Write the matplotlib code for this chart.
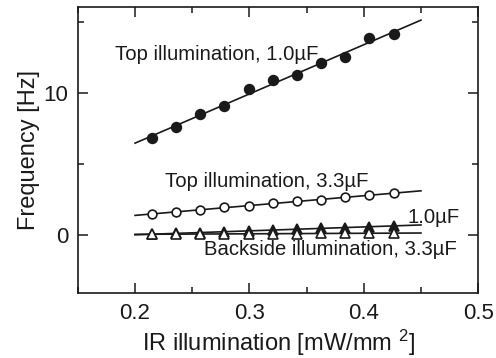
import numpy as np
import matplotlib
matplotlib.use("Agg")
import matplotlib.pyplot as plt
from matplotlib.ticker import MultipleLocator

plt.rcParams['font.family'] = ['Liberation Sans', 'DejaVu Sans']
plt.rcParams['mathtext.fontset'] = 'custom'
plt.rcParams['mathtext.rm'] = 'Liberation Sans'
plt.rcParams['mathtext.default'] = 'regular'

# IR illumination [mW/mm2]
ir = [0.215, 0.236, 0.257, 0.278, 0.300, 0.321, 0.342, 0.363, 0.384, 0.405, 0.426]

# Frequency [Hz]
top_1uF = [6.85, 7.6, 8.5, 9.1, 10.25, 10.9, 11.25, 12.1, 12.55, 13.85, 14.15]
top_3uF = [1.46, 1.6, 1.76, 1.92, 2.04, 2.23, 2.37, 2.46, 2.65, 2.77, 2.93]
back_1uF = [0.05, 0.1, 0.15, 0.2, 0.27, 0.33, 0.38, 0.45, 0.5, 0.57, 0.63]
back_3uF = [0.03, 0.04, 0.05, 0.06, 0.06, 0.07, 0.08, 0.09, 0.1, 0.1, 0.11]

fit_range = [0.2, 0.45]

ink = '#1a1a1a'
fig = plt.figure(figsize=(4.96, 3.58), dpi=100)
ax = fig.add_axes([0.157, 0.182, 0.807, 0.798])

series = [
    (top_1uF, dict(marker='o', mfc=ink, ms=7)),
    (top_3uF, dict(marker='o', mfc='white', ms=6.3)),
    (back_1uF, dict(marker='^', mfc=ink, ms=6.5)),
    (back_3uF, dict(marker='^', mfc='white', ms=6.5)),
]
xs = np.array(fit_range)
for ys, style in series:
    # ajuste lineal
    k, b = np.polyfit(ir, ys, 1)
    ax.plot(xs, k * xs + b, color=ink, lw=1.2, zorder=2)
    ax.plot(ir, ys, ls='none', mec=ink, mew=1.2, zorder=3, **style)

fs = 14.6
ax.text(0.1825, 12.7, 'Top illumination, 1.0µF', fontsize=fs, color=ink, va='center')
ax.text(0.226, 3.75, 'Top illumination, 3.3µF', fontsize=fs, color=ink, va='center')
ax.text(0.438, 1.2, '1.0µF', fontsize=fs, color=ink, va='center')
ax.text(0.26, -1.06, 'Backside illumination, 3.3µF', fontsize=fs, color=ink, va='center')

ax.set_xlim(0.15, 0.5)
ax.set_ylim(-4.1, 16.05)
ax.xaxis.set_major_locator(MultipleLocator(0.1))
ax.xaxis.set_minor_locator(MultipleLocator(0.05))
ax.yaxis.set_major_locator(MultipleLocator(10))
ax.yaxis.set_minor_locator(MultipleLocator(5))
ax.tick_params(which='both', direction='in', top=True, right=True, color=ink,
               labelsize=16, labelcolor=ink, width=1.1, pad=7)
ax.tick_params(which='major', length=7)
ax.tick_params(which='minor', length=4)
ax.xaxis.set_major_formatter(plt.FuncFormatter(lambda v, p: f'{v:.1f}'))
for s in ax.spines.values():
    s.set_color(ink)
    s.set_linewidth(1.2)

ax.set_xlabel('IR illumination [mW/mm $^{2}$]', fontsize=17, color=ink, labelpad=3)
ax.set_ylabel('Frequency [Hz]', fontsize=17, color=ink, labelpad=2)

fig.savefig('out.png', dpi=100)
